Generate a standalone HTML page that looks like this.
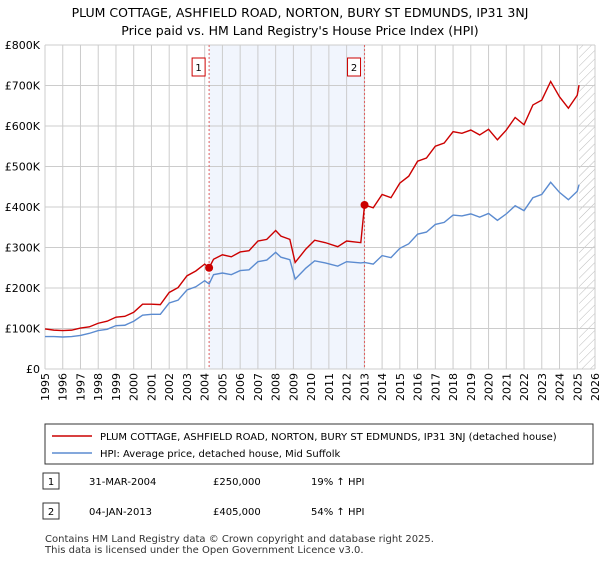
<!DOCTYPE html>
<html><head><meta charset="utf-8"><style>
body{margin:0;background:#fff;font-family:"Liberation Sans","DejaVu Sans",sans-serif;}
svg text{font-family:"DejaVu Sans","Liberation Sans",sans-serif;}
</style></head><body>
<svg id="c" width="600" height="560" xmlns="http://www.w3.org/2000/svg">
<text x="300" y="17" text-anchor="middle" font-size="12.5">PLUM COTTAGE, ASHFIELD ROAD, NORTON, BURY ST EDMUNDS, IP31 3NJ</text>
<text x="300" y="35" text-anchor="middle" font-size="12.5">Price paid vs. HM Land Registry's House Price Index (HPI)</text>
<g id="plot"></g>
<rect x="45" y="424" width="548" height="40" fill="#fff" stroke="#333"/>
<line x1="52" y1="436" x2="92" y2="436" stroke="#cc0000" stroke-width="1.5"/>
<text x="100" y="440" font-size="10">PLUM COTTAGE, ASHFIELD ROAD, NORTON, BURY ST EDMUNDS, IP31 3NJ (detached house)</text>
<line x1="52" y1="453" x2="92" y2="453" stroke="#5b8bd0" stroke-width="1.5"/>
<text x="100" y="457" font-size="10">HPI: Average price, detached house, Mid Suffolk</text>
<rect x="43" y="473" width="16" height="16" fill="#fff" stroke="#333"/>
<text x="51" y="485" font-size="10" text-anchor="middle">1</text>
<text x="89" y="485" font-size="10">31-MAR-2004</text>
<text x="213" y="485" font-size="10">£250,000</text>
<text x="311" y="485" font-size="10">19% ↑ HPI</text>
<rect x="43" y="503" width="16" height="16" fill="#fff" stroke="#333"/>
<text x="51" y="515" font-size="10" text-anchor="middle">2</text>
<text x="89" y="515" font-size="10">04-JAN-2013</text>
<text x="213" y="515" font-size="10">£405,000</text>
<text x="311" y="515" font-size="10">54% ↑ HPI</text>
<text x="45" y="542" font-size="10" fill="#333">Contains HM Land Registry data © Crown copyright and database right 2025.</text>
<text x="45" y="553" font-size="10" fill="#333">This data is licensed under the Open Government Licence v3.0.</text>
</svg>
<script>
const years=[1995,1995.5,1996,1996.5,1997,1997.5,1998,1998.5,1999,1999.5,2000,2000.5,2001,2001.5,2002,2002.5,2003,2003.5,2004,2004.25,2004.5,2005,2005.5,2006,2006.5,2007,2007.5,2008,2008.3,2008.8,2009.1,2009.7,2010.2,2010.8,2011.5,2012,2012.8,2013.01,2013.5,2014,2014.5,2015,2015.5,2016,2016.5,2017,2017.5,2018,2018.5,2019,2019.5,2020,2020.5,2021,2021.5,2022,2022.5,2023,2023.5,2024,2024.5,2025,2025.1];
const priceSeries=[99,96,95,96,101,104,113,118,128,130,140,160,160,159,189,201,230,242,259,250,271,282,277,289,292,316,320,342,328,320,263,296,318,312,302,316,312,405,398,431,423,459,476,513,521,550,558,586,582,590,578,592,566,590,621,603,652,664,710,672,644,676,701];
const hpiSeries=[80,80,79,80,83,88,95,98,107,108,118,133,135,135,163,170,195,203,218,210,233,237,233,243,245,265,269,288,276,270,222,249,267,262,254,265,262,263,259,280,275,298,309,333,338,357,362,380,378,383,375,384,367,383,403,391,423,431,461,436,418,439,455];
const yTicks=[0,100,200,300,400,500,600,700,800];
const yTickLabels=["£0","£100K","£200K","£300K","£400K","£500K","£600K","£700K","£800K"];
const xTickYears=[1995,1996,1997,1998,1999,2000,2001,2002,2003,2004,2005,2006,2007,2008,2009,2010,2011,2012,2013,2014,2015,2016,2017,2018,2019,2020,2021,2022,2023,2024,2025,2026];
const saleYears=[2004.25,2013.01];
const salePrices=[250,405];
const saleLabels=["1","2"];
const X0=45,X1=595,Y0=369,Y1=45;
const xs=y=>X0+(y-1995)/(2026-1995)*(X1-X0);
const ys=v=>Y0-v/800*(Y0-Y1);
const NS="http://www.w3.org/2000/svg";
const g=document.getElementById('plot');
function mk(t,a){const e=document.createElementNS(NS,t);for(const k in a)e.setAttribute(k,a[k]);g.appendChild(e);return e;}
let e;
e=mk('rect',{x:xs(saleYears[0]),y:Y1,width:xs(saleYears[1])-xs(saleYears[0]),height:Y0-Y1,fill:'#eef3fc',opacity:0.8});


const hx=xs(2025.1);
const defs=document.createElementNS(NS,'defs');defs.innerHTML='<pattern id="hp" width="6" height="6" patternUnits="userSpaceOnUse" patternTransform="rotate(45)"><line x1="0" y1="0" x2="0" y2="6" stroke="#bbb" stroke-width="1"/></pattern>';g.appendChild(defs);
e=mk('rect',{x:hx,y:Y1,width:X1-hx,height:Y0-Y1,fill:'url(#hp)'});


xTickYears.forEach(yr=>{
 e=mk('line',{x1:xs(yr),x2:xs(yr),y1:Y1,y2:Y0,stroke:'#ccc','stroke-width':1});
 
 
 e=mk('text',{x:0,y:0,'font-size':11,'text-anchor':'end',transform:`translate(${xs(yr)+4},${Y0+4}) rotate(-90)`});
 e.textContent=yr;
 
 
});
yTicks.forEach((v,i)=>{
 e=mk('line',{x1:X0,x2:X1,y1:ys(v),y2:ys(v),stroke:'#ccc','stroke-width':1});
 
 
 e=mk('text',{x:X0-5,y:ys(v)+4,'font-size':11,'text-anchor':'end'});
 e.textContent=yTickLabels[i];
 
 
});
saleYears.forEach((yr,i)=>{
 e=mk('line',{x1:xs(yr),x2:xs(yr),y1:Y1,y2:Y0,stroke:'#e06060','stroke-width':1,'stroke-dasharray':'2,2'});
 
 
 e=mk('rect',{x:xs(yr)-17,y:58,width:13,height:18,fill:'#fff',stroke:'#cc0000'});
 
 
 e=mk('text',{x:xs(yr)-10.5,y:71,'font-size':10,'text-anchor':'middle'});
 e.textContent=saleLabels[i];
 
 
});
e=mk('polyline',{points:years.map((y,i)=>xs(y)+','+ys(hpiSeries[i])).join(' '),fill:'none',stroke:'#5b8bd0','stroke-width':1.4});


e=mk('polyline',{points:years.map((y,i)=>xs(y)+','+ys(priceSeries[i])).join(' '),fill:'none',stroke:'#cc0000','stroke-width':1.4});


saleYears.forEach((yr,i)=>{
 e=mk('circle',{cx:xs(yr),cy:ys(salePrices[i]),r:4,fill:'#cc0000'});
 
 
});
</script>
</body></html>
